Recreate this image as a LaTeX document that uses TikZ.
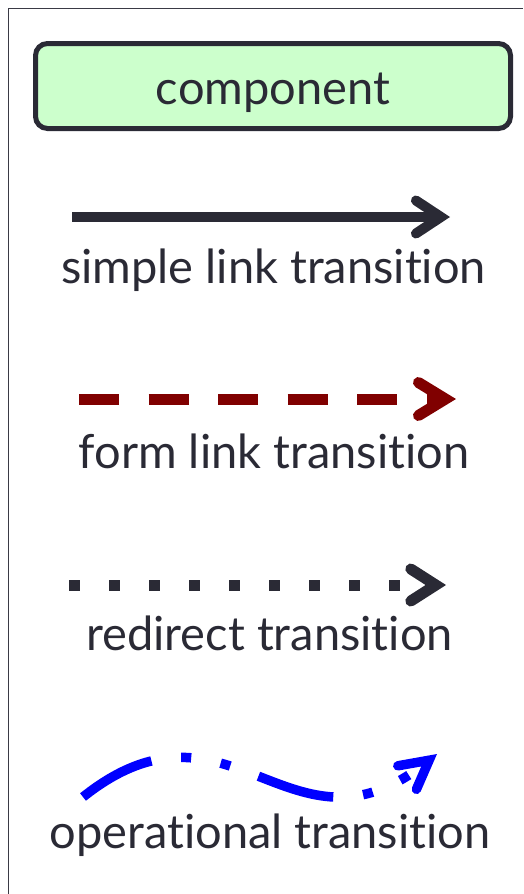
\documentclass[tikz,border=0pt]{standalone}
\usepackage{fontspec}
\setmainfont{Lato}[Ligatures={NoCommon,NoRare,NoContextual}]
\usetikzlibrary{arrows.meta}
\definecolor{ink}{HTML}{2A2A35}
\definecolor{framec}{HTML}{3A3A45}
\definecolor{compfill}{HTML}{CCFFCC}
\definecolor{formred}{HTML}{800000}
\definecolor{opblue}{HTML}{0000FF}
\tikzset{
  lbl/.style={text=ink, font=\fontsize{47}{54}\selectfont, inner sep=0pt, anchor=base},
  compbox/.style={draw=ink, fill=compfill, line width=5pt, rounded corners=12pt,
    minimum width=475pt, minimum height=85pt, inner sep=0pt, text=ink,
    font=\fontsize{47}{54}\selectfont, text height=40pt, text depth=4pt},
  simplelink/.style={draw=ink, line width=10pt,
    -{Straight Barb[length=25pt,width=33pt,line cap=round,line join=miter]}},
  formlink/.style={draw=formred, line width=11pt, dash pattern=on 40pt off 29.5pt,
    -{Straight Barb[length=27pt,width=33pt,line cap=round,line join=miter]}},
  redirectlink/.style={draw=ink, line width=11pt, dash pattern=on 11pt off 29pt,
    -{Straight Barb[length=25pt,width=32pt,line cap=round,line join=miter]}},
  oplink/.style={draw=opblue, line width=9.5pt,
    dash pattern=on 78pt off 30pt on 10pt off 30pt on 10pt off 30pt,
    -{Straight Barb[length=28pt,width=30pt,line cap=round,line join=miter]}},
}
\begin{document}
\begin{tikzpicture}[x=1pt,y=-1pt]
\useasboundingbox (0,0) rectangle (523,894);
% frame
\draw[framec, line width=1.3pt] (8.5,894) -- (8.5,8.5) -- (523,8.5);
% component
\node[compbox] (comp) at (273,86) {component};
% simple link
\coordinate (s1) at (72,217);
\coordinate (s2) at (450,217);
\draw[simplelink] (s1) -- (s2);
\node[lbl] (l1) at (273.5,283) {simple link transition};
% form link
\coordinate (f1) at (79,399);
\coordinate (f2) at (456,399);
\draw[formlink] (f1) -- (f2);
\node[lbl] (l2) at (274,468) {form link transition};
% redirect
\coordinate (r1) at (69,585);
\coordinate (r2) at (446,585);
\draw[redirectlink] (r1) -- (r2);
\node[lbl] (l3) at (269.5,650) {redirect transition};
% operational
\coordinate (o1) at (83,797);
\coordinate (o2) at (437,754);
\draw[oplink] (o1) .. controls (230,680) and (290,870) .. (o2);
\node[lbl] (l4) at (270,848) {operational transition};
\end{tikzpicture}
\end{document}
